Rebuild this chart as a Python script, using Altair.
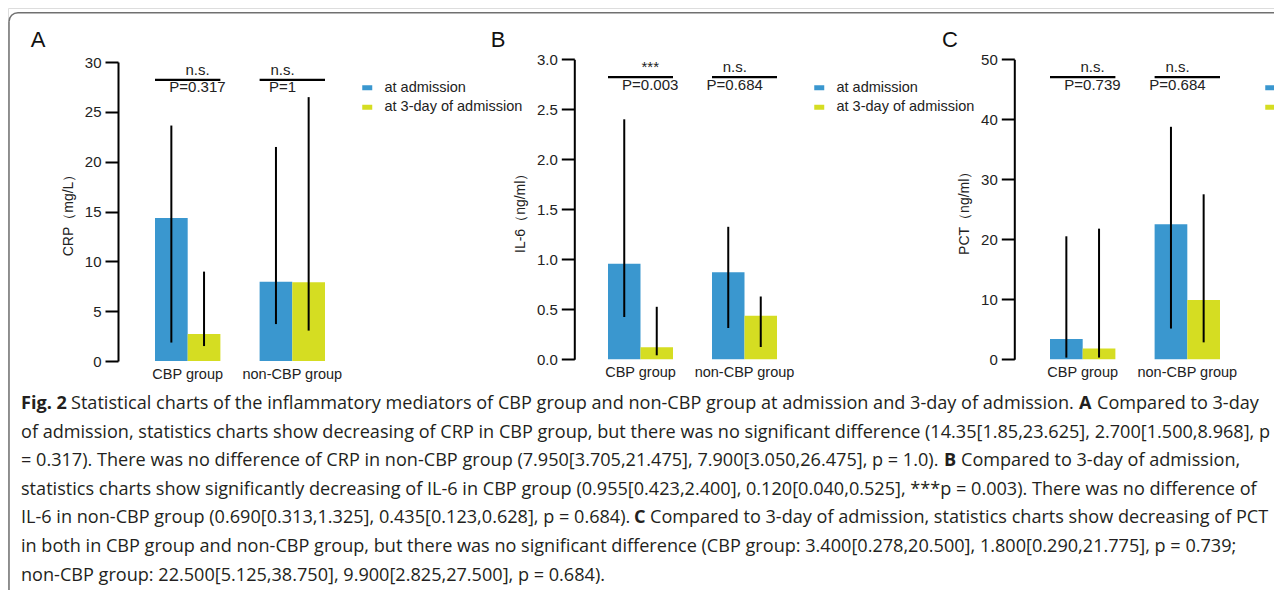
import math
import altair as alt
import pandas as pd

# ------------------------------------------------------------------ data
groups = ["CBP group", "non-CBP group"]
series = ["at admission", "at 3-day of admission"]

# order: CBP/admission, CBP/3-day, non-CBP/admission, non-CBP/3-day
crp_median = [14.35, 2.70, 7.95, 7.90]
crp_q1 = [1.85, 1.50, 3.705, 3.05]
crp_q3 = [23.625, 8.968, 21.475, 26.475]

il6_median = [0.955, 0.12, 0.87, 0.435]
il6_q1 = [0.423, 0.04, 0.313, 0.123]
il6_q3 = [2.40, 0.525, 1.325, 0.628]

pct_median = [3.4, 1.8, 22.5, 9.9]
pct_q1 = [0.278, 0.29, 5.125, 2.825]
pct_q3 = [20.5, 21.775, 38.75, 27.5]

crp_sig = ["n.s.", "n.s."]
crp_p = ["P=0.317", "P=1"]
il6_sig = ["***", "n.s."]
il6_p = ["P=0.003", "P=0.684"]
pct_sig = ["n.s.", "n.s."]
pct_p = ["P=0.739", "P=0.684"]

caption_segments = [
    [("Fig. 2", True),
     ("Statistical charts of the inflammatory mediators of CBP group and non-CBP group at admission and 3-day of admission.", False),
     ("A", True), ("Compared to 3-day", False)],
    [("of admission, statistics charts show decreasing of CRP in CBP group, but there was no significant difference (14.35[1.85,23.625], 2.700[1.500,8.968], p", False)],
    [("= 0.317). There was no difference of CRP in non-CBP group (7.950[3.705,21.475], 7.900[3.050,26.475], p = 1.0).", False),
     ("B", True), ("Compared to 3-day of admission,", False)],
    [("statistics charts show significantly decreasing of IL-6 in CBP group (0.955[0.423,2.400], 0.120[0.040,0.525], ***p = 0.003). There was no difference of", False)],
    [("IL-6 in non-CBP group (0.690[0.313,1.325], 0.435[0.123,0.628], p = 0.684).", False),
     ("C", True), ("Compared to 3-day of admission, statistics charts show decreasing of PCT", False)],
    [("in both in CBP group and non-CBP group, but there was no significant difference (CBP group: 3.400[0.278,20.500], 1.800[0.290,21.775], p = 0.739;", False)],
    [("non-CBP group: 22.500[5.125,38.750], 9.900[2.825,27.500], p = 0.684).", False)],
]

# ------------------------------------------------------------------ style / layout
W, H = 1266, 582
OFF = 8
BLUE, YELLOW = "#3a97cf", "#d5dd22"
INK = "#222222"
FRAME = "#707070"
FONT = "Liberation Sans"
CAP_FONT = "Open Sans"
CAP_SIZE = 18.1
SIG_FRAC, LINE_FRAC, P_FRAC = 0.973, 0.944, 0.915

caption_x = [[21, 71, 1079, 1097], [21], [21, 944, 961], [21], [21, 634, 650], [21], [21]]
caption_y0, caption_dy = 404, 28.6
frame_x, frame_y, frame_r = 9, 12.7, 9


def P(v):
    return v - OFF


panels = [
    dict(key="A", title="CRP（mg/L）", med=crp_median, q1=crp_q1, q3=crp_q3, sig=crp_sig, p=crp_p,
         ymax=30, ticks=[0, 5, 10, 15, 20, 25, 30], fmt="d",
         y0=361, y1=62, bx0=155, bx1=325, axx=118, letter=(38, 40), leg=(360, 80.5), labels=True),
    dict(key="B", title="IL-6（ng/ml）", med=il6_median, q1=il6_q1, q3=il6_q3, sig=il6_sig, p=il6_p,
         ymax=3.0, ticks=[0, 0.5, 1.0, 1.5, 2.0, 2.5, 3.0], fmt=".1f",
         y0=359.3, y1=59.3, bx0=608, bx1=777, axx=574.3, letter=(498, 40), leg=(812, 80.5), labels=True),
    dict(key="C", title="PCT（ng/ml）", med=pct_median, q1=pct_q1, q3=pct_q3, sig=pct_sig, p=pct_p,
         ymax=50, ticks=[0, 10, 20, 30, 40, 50], fmt="d",
         y0=359.3, y1=59.3, bx0=1050, bx1=1220, axx=1014.3, letter=(950, 40), leg=(1263, 80.5), labels=False),
]

dummy = pd.DataFrame({"k": [0]})
layers = []

# frame around the figure (top edge, left edge, rounded corner)
layers.append(
    alt.Chart(dummy).mark_rule(color=FRAME, strokeWidth=1.5)
    .encode(x=alt.value(P(frame_x + frame_r)), x2=alt.value(W + 40), y=alt.value(P(frame_y)))
)
layers.append(
    alt.Chart(dummy).mark_rule(color=FRAME, strokeWidth=1.5)
    .encode(x=alt.value(P(frame_x)), y=alt.value(P(frame_y + frame_r)), y2=alt.value(H + 40))
)
layers.append(
    alt.Chart(dummy).mark_arc(color=FRAME, radius=frame_r + 0.75, radius2=frame_r - 0.75,
                              theta=1.5 * math.pi, theta2=2 * math.pi)
    .encode(x=alt.value(P(frame_x + frame_r)), y=alt.value(P(frame_y + frame_r)))
)

for pc in panels:
    df = pd.DataFrame({
        "group": [g for g in groups for _ in series],
        "series": series * 2,
        "median": pc["med"], "q1": pc["q1"], "q3": pc["q3"],
    })
    ymax = pc["ymax"]
    ann = pd.DataFrame({"group": groups, "sig": pc["sig"], "p": pc["p"]})
    ann["sig_y"] = ymax * SIG_FRAC
    ann["line_y"] = ymax * LINE_FRAC
    ann["line_y2"] = ymax * LINE_FRAC - ymax * 2.2 / 300
    ann["p_y"] = ymax * P_FRAC

    xs = alt.Scale(domain=groups, range=[P(pc["bx0"]), P(pc["bx1"])], paddingInner=0.375, paddingOuter=0)
    ys = alt.Scale(domain=[0, ymax], range=[P(pc["y0"]), P(pc["y1"])], nice=False, zero=True)

    def xo():
        return alt.XOffset("series:N", sort=series,
                           scale=alt.Scale(domain=series, paddingInner=0, paddingOuter=0))

    x_axis = alt.Axis(orient="bottom", offset=P(pc["y0"]) - H, domain=False, ticks=False,
                      labelAngle=0, labelFontSize=14.5, labelColor=INK, labelPadding=6,
                      labelFont=FONT, grid=False, labelOverlap=False)
    y_axis = alt.Axis(orient="left", offset=-P(pc["axx"]), values=pc["ticks"], format=pc["fmt"],
                      domainColor="black", domainWidth=2, tickColor="black", tickWidth=2, tickSize=13,
                      labelFontSize=15, labelColor=INK, labelPadding=4, labelFont=FONT,
                      title=pc["title"], titleFontSize=14, titleFontWeight="normal", titleColor=INK,
                      titleFont=FONT, titlePadding=9, grid=False)
    legend_kw = dict(orient="none", legendX=P(pc["leg"][0]), legendY=P(pc["leg"][1]),
                     title=None, padding=0, symbolType="M-1,-0.5H1V0.5H-1Z", symbolSize=100,
                     symbolStrokeWidth=0, labelFontSize=14.5, labelFont=FONT,
                     labelColor=INK, labelOffset=10, rowPadding=4.5)
    if not pc["labels"]:
        legend_kw["labelExpr"] = "''"

    bars = alt.Chart(df).mark_bar().encode(
        x=alt.X("group:N", sort=groups, scale=xs, axis=x_axis, title=None),
        xOffset=xo(),
        y=alt.Y("median:Q", scale=ys, axis=y_axis),
        color=alt.Color("series:N", sort=series,
                        scale=alt.Scale(domain=series, range=[BLUE, YELLOW]),
                        legend=alt.Legend(**legend_kw)),
    )
    errs = alt.Chart(df).mark_rule(color="black", strokeWidth=2).encode(
        x=alt.X("group:N", sort=groups, scale=xs, axis=None),
        xOffset=xo(),
        y=alt.Y("q1:Q", scale=ys, axis=None),
        y2="q3:Q",
    )
    sig_line = alt.Chart(ann).mark_bar(color="black").encode(
        x=alt.X("group:N", sort=groups, scale=xs, axis=None),
        y=alt.Y("line_y:Q", scale=ys, axis=None),
        y2="line_y2:Q",
    )
    sig_txt = alt.Chart(ann).mark_text(fontSize=15, font=FONT, color=INK, baseline="middle").encode(
        x=alt.X("group:N", sort=groups, scale=xs, axis=None),
        y=alt.Y("sig_y:Q", scale=ys, axis=None),
        text="sig:N",
    )
    p_txt = alt.Chart(ann).mark_text(fontSize=15, font=FONT, color=INK, baseline="middle").encode(
        x=alt.X("group:N", sort=groups, scale=xs, axis=None),
        y=alt.Y("p_y:Q", scale=ys, axis=None),
        text="p:N",
    )
    letter = alt.Chart(dummy).mark_text(fontSize=22, font=FONT, color="#111111", align="center",
                                        baseline="middle").encode(
        x=alt.value(P(pc["letter"][0])), y=alt.value(P(pc["letter"][1])), text=alt.value(pc["key"]))
    layers += [bars, errs, sig_line, sig_txt, p_txt, letter]

# caption
for i, segs in enumerate(caption_segments):
    for (txt, bold), xpos in zip(segs, caption_x[i]):
        layers.append(
            alt.Chart(dummy).mark_text(fontSize=CAP_SIZE, font=CAP_FONT, color="#231f20",
                                       fontWeight="bold" if bold else "normal",
                                       align="left", baseline="middle")
            .encode(x=alt.value(P(xpos)), y=alt.value(P(caption_y0 + caption_dy * i)), text=alt.value(txt))
        )

chart = (
    alt.layer(*layers)
    .resolve_scale(x="independent", y="independent", xOffset="independent", color="independent")
    .resolve_axis(x="independent", y="independent")
    .resolve_legend(color="independent")
    .properties(width=W, height=H, autosize=alt.AutoSizeParams(type="none"), padding=0)
    .configure_view(stroke=None)
    .configure(font=FONT)
)

chart.save("out.html", embed_options={"renderer": "svg", "actions": False})
